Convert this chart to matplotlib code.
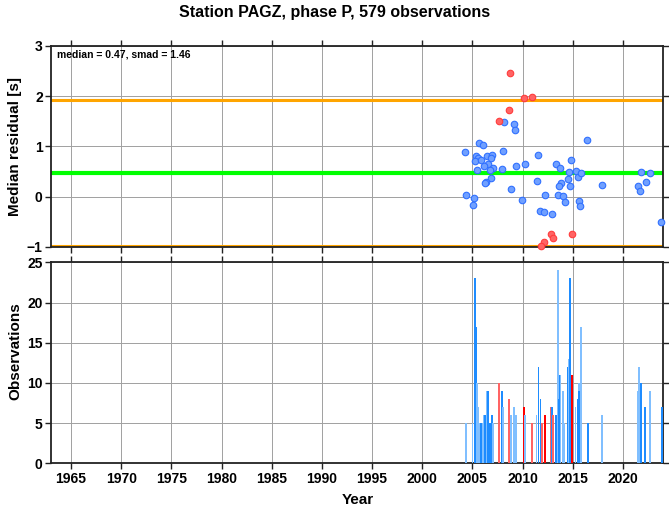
import matplotlib
matplotlib.use("Agg")
import matplotlib.pyplot as plt

plt.rcParams['font.family'] = ['Liberation Sans', 'DejaVu Sans']
plt.rcParams['font.weight'] = 'bold'

# Residuals per event (year, median residual) - blue = kept, red = outside 1 smad
thn_biru = [2008.16, 2009.15, 2009.25, 2016.46, 2005.70, 2006.06, 2004.27, 2005.33,
            2005.53, 2005.27, 2005.86, 2006.46, 2006.96, 2006.83, 2008.02, 2011.58,
            2006.56, 2006.13, 2007.06, 2006.73, 2005.50, 2007.96, 2009.32, 2010.25,
            2013.37, 2013.70, 2014.80, 2014.60, 2015.30, 2015.53, 2015.83, 2021.84,
            2022.71, 2006.89, 2006.40, 2006.30, 2011.41, 2013.80, 2013.60, 2014.53,
            2014.70, 2017.89, 2021.51, 2022.28, 2021.68, 2008.82, 2004.37, 2005.20,
            2005.03, 2009.98, 2012.28, 2013.54, 2014.04, 2014.24, 2015.63, 2015.73,
            2011.71, 2012.14, 2012.94, 2023.80]
res_biru = [1.49, 1.45, 1.32, 1.12, 1.06, 1.03, 0.88, 0.81,
            0.77, 0.70, 0.73, 0.80, 0.83, 0.76, 0.91, 0.83,
            0.64, 0.61, 0.57, 0.53, 0.53, 0.54, 0.61, 0.64,
            0.65, 0.56, 0.72, 0.49, 0.51, 0.39, 0.46, 0.49,
            0.47, 0.37, 0.28, 0.27, 0.30, 0.27, 0.21, 0.35,
            0.21, 0.23, 0.20, 0.29, 0.11, 0.15, 0.04, -0.03,
            -0.17, -0.06, 0.03, 0.04, 0.01, -0.10, -0.09, -0.19,
            -0.29, -0.31, -0.34, -0.51]
thn_merah = [2008.72, 2010.15, 2010.95, 2008.65, 2007.66, 2012.87, 2013.04, 2012.18,
             2011.81, 2014.90]
res_merah = [2.47, 1.97, 1.99, 1.73, 1.50, -0.74, -0.82, -0.90, -0.98, -0.74]

median = 0.47
smad = 1.46

# Observations per month bar (year, count, colour group)
thn_bar = [2004.34, 2005.00, 2005.20, 2005.27, 2005.37, 2005.43, 2005.53, 2005.70,
           2005.83, 2006.00, 2006.13, 2006.23, 2006.40, 2006.46, 2006.56, 2006.69,
           2006.83, 2006.96, 2007.03, 2007.66, 2007.92, 2008.06, 2008.62, 2008.82,
           2009.12, 2009.35, 2010.18, 2010.28, 2010.95, 2011.38, 2011.58, 2011.78,
           2011.91, 2012.18, 2012.24, 2012.84, 2012.94, 2013.01, 2013.31, 2013.50,
           2013.60, 2013.67, 2013.77, 2014.00, 2014.14, 2014.47, 2014.57, 2014.70,
           2014.77, 2014.90, 2015.27, 2015.50, 2015.60, 2015.66, 2015.80, 2016.50,
           2017.89, 2021.51, 2021.64, 2021.81, 2022.24, 2022.67, 2023.87]
jml_bar = [5, 5, 8, 23, 17, 10, 7, 5,
           5, 5, 6, 6, 7, 9, 9, 5,
           5, 6, 5, 10, 9, 7, 8, 6,
           7, 6, 7, 6, 5, 6, 12, 8,
           5, 6, 6, 7, 7, 6, 6, 24,
           8, 11, 11, 9, 5, 12, 13, 23,
           8, 11, 7, 8, 10, 9, 17, 5,
           6, 9, 12, 10, 7, 9, 7]
grp_bar = ['l', 'l', 'd', 'd', 'd', 'l', 'l', 'l',
           'd', 'l', 'l', 'd', 'd', 'l', 'd', 'd',
           'd', 'd', 'l', 'lr', 'd', 'l', 'lr', 'l',
           'l', 'l', 'r', 'l', 'lr', 'l', 'd', 'd',
           'lr', 'd', 'r', 'lr', 'd', 'lr', 'd', 'l',
           'd', 'd', 'l', 'l', 'l', 'd', 'l', 'd',
           'd', 'r', 'l', 'd', 'l', 'd', 'l', 'd',
           'l', 'l', 'l', 'd', 'd', 'l', 'd']

warna = {'l': '#80bfff', 'd': '#1e8cff', 'r': '#ff0000', 'lr': '#ff6464'}

xticks = list(range(1965, 2021, 5))

fig = plt.figure(figsize=(6.69, 5.11), dpi=100)
ax1 = fig.add_axes([51/669, 1 - 246.7/511, 612/669, 200.7/511])
ax2 = fig.add_axes([51/669, 1 - 463.3/511, 612/669, 201/511])

for ax in (ax1, ax2):
    ax.set_xlim(1963, 2024)
    ax.set_xticks(xticks)
    ax.grid(True, color='#a0a0a0', linewidth=0.7)
    ax.set_axisbelow(True)
    ax.tick_params(direction='out', length=4, width=1, top=True, right=True,
                   labelsize=10, colors='#222222', labelcolor='black', pad=2)
    for sp in ax.spines.values():
        sp.set_linewidth(1.3)
        sp.set_color('#222222')

# 1. panel atas: residual
ax1.set_ylim(-1, 3)
ax1.set_yticks([-1, 0, 1, 2, 3])
ax1.tick_params(labelbottom=False)
ax1.axhline(median, color='#00ff00', linewidth=3, zorder=2)
ax1.axhline(median + smad, color='#ffa500', linewidth=2.2, zorder=2)
ax1.axhline(median - smad, color='#ffa500', linewidth=2.2, zorder=2)
ax1.scatter(thn_biru, res_biru, s=22, color='#70a0ff', edgecolor='#3070ff',
            linewidth=0.8, zorder=3, clip_on=False)
ax1.scatter(thn_merah, res_merah, s=22, color='#ff6464', edgecolor='#ff3c3c',
            linewidth=0.8, zorder=3, clip_on=False)
ax1.text(0.01, 0.985, 'median = %.2f, smad = %.2f' % (median, smad),
         transform=ax1.transAxes, ha='left', va='top', fontsize=7.5,
         fontweight='bold')

# 2. panel bawah: jumlah observasi
ax2.set_ylim(0, 25)
ax2.set_yticks([0, 5, 10, 15, 20, 25])
ax2.bar(thn_bar, jml_bar, width=0.17, color=[warna[g] for g in grp_bar],
        linewidth=0, zorder=3)

fig.text(335/669, 1 - 12/511, 'Station PAGZ, phase P, 579 observations',
         ha='center', va='center', fontsize=11.5, fontweight='bold')
fig.text(15/669, 1 - 146/511, 'Median residual [s]', rotation=90,
         ha='center', va='center', fontsize=11, fontweight='bold')
fig.text(15/669, 1 - 351/511, 'Observations', rotation=90,
         ha='center', va='center', fontsize=11, fontweight='bold')
fig.text(358/669, 1 - 500/511, 'Year', ha='center', va='center',
         fontsize=11, fontweight='bold')

fig.savefig('out.png', dpi=100)
